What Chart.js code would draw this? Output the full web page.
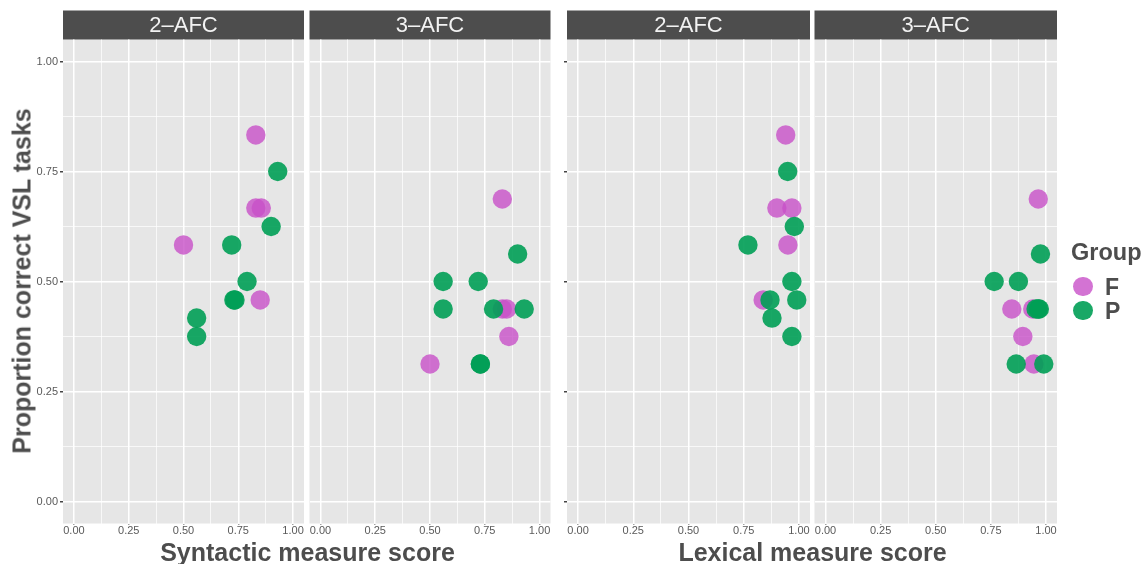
<!DOCTYPE html>
<html><head><meta charset="utf-8">
<script src="https://cdn.jsdelivr.net/npm/chart.js@4.4.0/dist/chart.umd.min.js"></script>
<style>
html,body{margin:0;padding:0;background:#fff;}
#wrap{position:relative;width:1148px;height:564px;overflow:hidden;font-family:"Liberation Sans",Arial,sans-serif;}
#wrap canvas{position:absolute;left:0;top:0;}
.t{position:absolute;font-weight:bold;color:#4D4D4D;white-space:nowrap;line-height:1;}
.dot{position:absolute;width:19.4px;height:19.4px;border-radius:50%;}
</style></head><body>
<div id="wrap">
  <canvas id="c0" width="1148" height="564"></canvas>
  <canvas id="c1" width="1148" height="564"></canvas>
  <canvas id="c2" width="1148" height="564"></canvas>
  <canvas id="c3" width="1148" height="564"></canvas>
  <div class="t" id="ytitle" style="font-size:25px;left:22px;top:280.5px;transform:translate(-50%,-50%) rotate(-90deg);">Proportion correct VSL tasks</div>
  <div class="t" style="font-size:25px;left:307.5px;top:551.5px;transform:translate(-50%,-50%);">Syntactic measure score</div>
  <div class="t" style="font-size:25px;left:812.5px;top:551.5px;transform:translate(-50%,-50%);">Lexical measure score</div>
  <div class="t" style="font-size:23.5px;left:1071px;top:253px;transform:translate(0,-50%);">Group</div>
  <div class="dot" id="dotF" style="left:1073.3px;top:277px;"></div>
  <div class="dot" id="dotP" style="left:1073.3px;top:301px;"></div>
  <div class="t" style="font-size:23px;left:1105px;top:287px;transform:translate(0,-50%);">F</div>
  <div class="t" style="font-size:23px;left:1105px;top:311px;transform:translate(0,-50%);">P</div>
</div>
<script>
// ---- data ----
const panelTitles = ['2\u2013AFC', '3\u2013AFC', '2\u2013AFC', '3\u2013AFC'];
const axisTickValues = [0, 0.125, 0.25, 0.375, 0.5, 0.625, 0.75, 0.875, 1];
const groups = ['F', 'P'];

// Syntactic, 2-AFC
const syn2F_x = [0.83, 0.83, 0.855, 0.50, 0.85];
const syn2F_y = [0.833, 0.667, 0.667, 0.583, 0.458];
const syn2P_x = [0.93, 0.90, 0.72, 0.79, 0.73, 0.735, 0.56, 0.56];
const syn2P_y = [0.75, 0.625, 0.583, 0.5, 0.458, 0.458, 0.417, 0.375];
// Syntactic, 3-AFC
const syn3F_x = [0.83, 0.83, 0.85, 0.86, 0.50];
const syn3F_y = [0.6875, 0.4375, 0.4375, 0.375, 0.3125];
const syn3P_x = [0.90, 0.56, 0.72, 0.56, 0.79, 0.93, 0.73, 0.73];
const syn3P_y = [0.5625, 0.5, 0.5, 0.4375, 0.4375, 0.4375, 0.3125, 0.3125];
// Lexical, 2-AFC
const lex2F_x = [0.94, 0.90, 0.968, 0.95, 0.838];
const lex2F_y = [0.833, 0.667, 0.667, 0.583, 0.458];
const lex2P_x = [0.949, 0.979, 0.769, 0.968, 0.869, 0.99, 0.878, 0.968];
const lex2P_y = [0.75, 0.625, 0.583, 0.5, 0.458, 0.458, 0.417, 0.375];
// Lexical, 3-AFC
const lex3F_x = [0.965, 0.845, 0.94, 0.895, 0.945];
const lex3F_y = [0.6875, 0.4375, 0.4375, 0.375, 0.3125];
const lex3P_x = [0.975, 0.765, 0.875, 0.955, 0.97, 0.965, 0.865, 0.99];
const lex3P_y = [0.5625, 0.5, 0.5, 0.4375, 0.4375, 0.4375, 0.3125, 0.3125];

// ---- style ----
const colF = 'rgba(200,80,200,0.8)';
const colP = 'rgba(0,158,85,0.9)';
document.getElementById('dotF').style.background = colF;
document.getElementById('dotP').style.background = colP;
const FONT = '"Liberation Sans", Arial, sans-serif';

const panels = [
  {left: 63, right: 304, fx: syn2F_x, fy: syn2F_y, px: syn2P_x, py: syn2P_y, yLabels: true, yTicks: true},
  {left: 309.5, right: 550.5, fx: syn3F_x, fy: syn3F_y, px: syn3P_x, py: syn3P_y, yLabels: false, yTicks: false},
  {left: 567, right: 810, fx: lex2F_x, fy: lex2F_y, px: lex2P_x, py: lex2P_y, yLabels: false, yTicks: true},
  {left: 814.5, right: 1057, fx: lex3F_x, fy: lex3F_y, px: lex3P_x, py: lex3P_y, yLabels: false, yTicks: false}
];
const PANEL_TOP = 39.5, PANEL_BOTTOM = 523.5, STRIP_H = 29;
const Y_W = 30, X_H = 20;

const isMajor = v => Math.abs(v * 4 - Math.round(v * 4)) < 1e-6;

const stripPlugin = {
  id: 'strip',
  beforeDraw(chart, args, opts) {
    const {ctx, chartArea: a} = chart;
    ctx.save();
    ctx.fillStyle = '#E6E6E6';
    ctx.fillRect(a.left, a.top, a.right - a.left, a.bottom - a.top);
    ctx.fillStyle = '#4D4D4D';
    ctx.fillRect(a.left, a.top - STRIP_H, a.right - a.left, STRIP_H);
    ctx.fillStyle = '#F2F2F2';
    ctx.font = '22px ' + FONT;
    ctx.textAlign = 'center';
    ctx.textBaseline = 'middle';
    ctx.fillText(opts.text, (a.left + a.right) / 2, a.top - STRIP_H / 2 + 1);
    ctx.restore();
  }
};

function makeScale(axis, showLabels, showTicks) {
  return {
    type: 'linear', min: -0.05, max: 1.05,
    afterBuildTicks: s => { s.ticks = axisTickValues.map(v => ({value: v})); },
    afterFit: s => { if (axis === 'x') s.height = X_H; else s.width = Y_W; },
    grid: {
      color: '#FFFFFF',
      lineWidth: c => (c.tick && isMajor(c.tick.value)) ? 1.5 : 0.7,
      drawTicks: showTicks,
      tickLength: axis === 'x' ? 1 : 3,
      tickColor: c => (c.tick && isMajor(c.tick.value)) ? '#444444' : 'rgba(0,0,0,0)'
    },
    border: {display: false},
    ticks: {
      display: showLabels,
      autoSkip: false, maxRotation: 0, minRotation: 0,
      padding: axis === 'x' ? 0 : 2,
      color: '#5A5A5A',
      font: {family: FONT, size: 11},
      callback: v => isMajor(v) ? v.toFixed(2) : ''
    }
  };
}

panels.forEach((p, i) => {
  const toPts = (xs, ys) => xs.map((x, k) => ({x: x, y: ys[k]}));
  new Chart(document.getElementById('c' + i), {
    type: 'scatter',
    data: {
      datasets: [
        {label: groups[1], data: toPts(p.px, p.py), backgroundColor: colP, borderWidth: 0, pointRadius: 9.7, pointHoverRadius: 9.7, order: 0},
        {label: groups[0], data: toPts(p.fx, p.fy), backgroundColor: colF, borderWidth: 0, pointRadius: 9.7, pointHoverRadius: 9.7, order: 1}
      ]
    },
    options: {
      responsive: false, animation: false, devicePixelRatio: 1,
      events: [],
      layout: {padding: {left: p.left - Y_W, right: 1148 - p.right, top: PANEL_TOP, bottom: 564 - PANEL_BOTTOM - X_H}},
      plugins: {legend: {display: false}, tooltip: {enabled: false}, strip: {text: panelTitles[i]}},
      scales: {
        x: makeScale('x', true, true),
        y: makeScale('y', p.yLabels, p.yTicks)
      }
    },
    plugins: [stripPlugin]
  });
});
</script>
</body></html>
